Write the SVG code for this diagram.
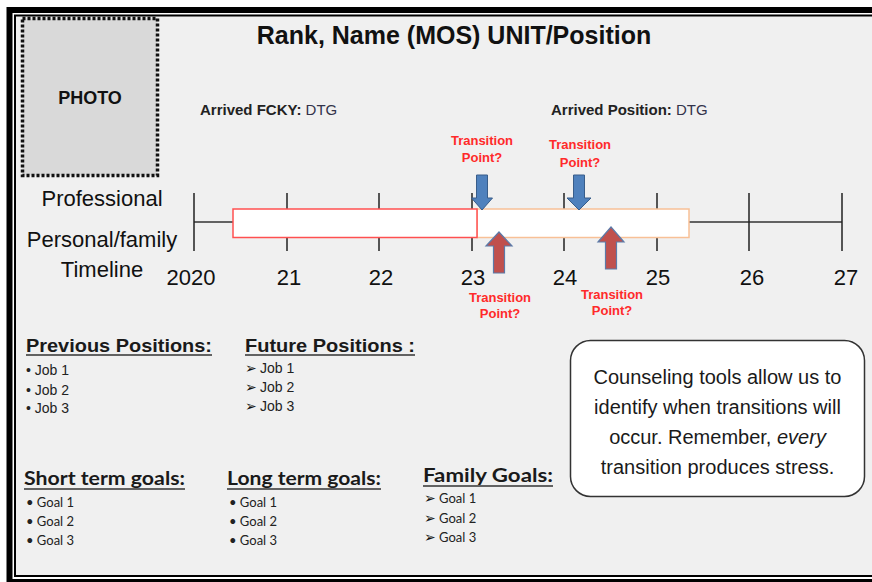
<svg xmlns="http://www.w3.org/2000/svg" width="872" height="582" viewBox="0 0 872 582">
<defs>
<style>
.sans{font-family:"Liberation Sans",Arial,sans-serif;}
.tp{font-family:"Liberation Sans",Arial,sans-serif;font-size:13px;font-weight:bold;fill:#ff2a2a;text-anchor:middle;}
.yr{font-family:"Liberation Sans",Arial,sans-serif;font-size:22px;fill:#111;text-anchor:middle;}
.tick{stroke:#222;stroke-width:1.5;}
.down{fill:#4f81bd;stroke:#385d8a;stroke-width:1;}
.up{fill:#c0504d;stroke:#5b7aa8;stroke-width:1.2;}
.hd{font-family:"Liberation Sans",Arial,sans-serif;font-size:19px;font-weight:bold;fill:#1a1a1a;}
.item{font-family:"Liberation Sans",Arial,sans-serif;font-size:14px;fill:#222;}
.gh{font-family:Lato,"Open Sans",sans-serif;font-size:18px;font-weight:bold;fill:#1a1a1a;}
.gi{font-family:Lato,"Open Sans",sans-serif;font-size:13px;fill:#222;}
.ul{stroke:#333;stroke-width:1.5;}
.bul{font-family:"DejaVu Sans",sans-serif;font-size:14px;fill:#111;font-weight:bold;}
</style>
</defs>
<rect x="0" y="0" width="872" height="582" fill="#ffffff"/>
<rect x="15" y="15.5" width="900" height="560.5" fill="#f0f0f0" stroke="#000" stroke-width="2"/>
<rect x="9.5" y="10" width="900" height="572" fill="none" stroke="#000" stroke-width="6"/>

<g id="photo">
<rect x="22.5" y="18.5" width="135" height="157" fill="#d9d9d9" stroke="#111" stroke-width="3.5" stroke-dasharray="3 2"/>
<text x="90" y="104" class="sans" font-size="18" font-weight="bold" fill="#111" text-anchor="middle">PHOTO</text>
</g>

<g id="title">
<text x="454" y="44" class="sans" font-size="25" font-weight="bold" fill="#111" text-anchor="middle">Rank, Name (MOS) UNIT/Position</text>
</g>

<g id="arrived-fcky">
<text x="200" y="115" class="sans" font-size="15" fill="#222"><tspan font-weight="bold">Arrived FCKY:</tspan><tspan fill="#33334a"> DTG</tspan></text>
</g>
<g id="arrived-position">
<text x="551" y="115" class="sans" font-size="15" fill="#222"><tspan font-weight="bold">Arrived Position:</tspan><tspan fill="#33334a"> DTG</tspan></text>
</g>

<g id="timeline-labels">
<text x="102" y="206" class="sans" font-size="22" fill="#111" text-anchor="middle">Professional</text>
<text x="102" y="247" class="sans" font-size="22" fill="#111" text-anchor="middle">Personal/family</text>
<text x="102" y="277" class="sans" font-size="22" fill="#111" text-anchor="middle">Timeline</text>
</g>

<g id="timeline">
<line x1="194" y1="222" x2="842" y2="222" stroke="#333" stroke-width="1.5"/>
<line class="tick" x1="194" y1="193" x2="194" y2="251"/>
<line class="tick" x1="287" y1="193" x2="287" y2="251"/>
<line class="tick" x1="379" y1="193" x2="379" y2="251"/>
<line class="tick" x1="472" y1="193" x2="472" y2="251"/>
<line class="tick" x1="564" y1="193" x2="564" y2="251"/>
<line class="tick" x1="657" y1="193" x2="657" y2="251"/>
<line class="tick" x1="749" y1="193" x2="749" y2="251"/>
<line class="tick" x1="842" y1="193" x2="842" y2="251"/>
<rect x="477" y="209" width="212" height="28.5" fill="#fff" stroke="#f8c096" stroke-width="1.5"/>
<rect x="233" y="209" width="244" height="28.5" fill="#fff" stroke="#ff5050" stroke-width="1.5"/>
<text class="yr" x="191" y="285">2020</text>
<text class="yr" x="289" y="285">21</text>
<text class="yr" x="381" y="285">22</text>
<text class="yr" x="473" y="285">23</text>
<text class="yr" x="565" y="285">24</text>
<text class="yr" x="658" y="285">25</text>
<text class="yr" x="752" y="285">26</text>
<text class="yr" x="846" y="285">27</text>
</g>

<g id="connectors">
<path class="down" d="M476.5,175 H487.5 V198 H492.5 L482,210 L471.5,198 H476.5 Z"/>
<path class="down" d="M573.5,175 H584.5 V198 H591 L579,210 L567,198 H573.5 Z"/>
<path class="up" d="M499,232 L512,246 H504.5 V273 H493.5 V246 H486 Z"/>
<path class="up" d="M611,227 L624,242 H616.5 V269 H605.5 V242 H598 Z"/>
</g>

<g id="tp1"><text class="tp" x="482" y="145">Transition</text><text class="tp" x="482" y="162">Point?</text></g>
<g id="tp2"><text class="tp" x="580" y="149">Transition</text><text class="tp" x="580" y="167">Point?</text></g>
<g id="tp3"><text class="tp" x="500" y="302">Transition</text><text class="tp" x="500" y="318">Point?</text></g>
<g id="tp4"><text class="tp" x="612" y="299">Transition</text><text class="tp" x="612" y="315">Point?</text></g>

<g id="previous-positions">
<text class="hd" x="26" y="352" textLength="186" lengthAdjust="spacingAndGlyphs">Previous Positions:</text>
<line class="ul" x1="26" y1="355" x2="212" y2="355"/>
<text class="item" x="26" y="375">• Job 1</text>
<text class="item" x="26" y="395">• Job 2</text>
<text class="item" x="26" y="413">• Job 3</text>
</g>

<g id="future-positions">
<text class="hd" x="245" y="352" textLength="170" lengthAdjust="spacingAndGlyphs">Future Positions :</text>
<line class="ul" x1="245" y1="355" x2="415" y2="355"/>
<text class="item" x="245" y="373"><tspan class="bul">➢</tspan><tspan x="260">Job 1</tspan></text>
<text class="item" x="245" y="392"><tspan class="bul">➢</tspan><tspan x="260">Job 2</tspan></text>
<text class="item" x="245" y="411"><tspan class="bul">➢</tspan><tspan x="260">Job 3</tspan></text>
</g>

<g id="short-term-goals">
<text class="gh" x="24" y="485" textLength="161" lengthAdjust="spacingAndGlyphs">Short term goals:</text>
<line class="ul" x1="24" y1="489" x2="185" y2="489"/>
<text class="gi" x="26" y="507">• Goal 1</text>
<text class="gi" x="26" y="526">• Goal 2</text>
<text class="gi" x="26" y="545">• Goal 3</text>
</g>

<g id="long-term-goals">
<text class="gh" x="227" y="485" textLength="154" lengthAdjust="spacingAndGlyphs">Long term goals:</text>
<line class="ul" x1="227" y1="489" x2="381" y2="489"/>
<text class="gi" x="229" y="507">• Goal 1</text>
<text class="gi" x="229" y="526">• Goal 2</text>
<text class="gi" x="229" y="545">• Goal 3</text>
</g>

<g id="family-goals">
<text class="gh" x="423" y="482" textLength="130" lengthAdjust="spacingAndGlyphs">Family Goals:</text>
<line class="ul" x1="423" y1="486" x2="553" y2="486"/>
<text class="gi" x="424" y="503"><tspan class="bul">➢</tspan><tspan x="439">Goal 1</tspan></text>
<text class="gi" x="424" y="523"><tspan class="bul">➢</tspan><tspan x="439">Goal 2</tspan></text>
<text class="gi" x="424" y="542"><tspan class="bul">➢</tspan><tspan x="439">Goal 3</tspan></text>
</g>

<g id="callout">
<rect x="570.5" y="340.5" width="294" height="156" rx="20" ry="20" fill="#fff" stroke="#333" stroke-width="1.5"/>
<g class="sans" font-size="20" fill="#1a1a1a" text-anchor="middle">
<text x="717.5" y="384">Counseling tools allow us to</text>
<text x="717.5" y="414">identify when transitions will</text>
<text x="717.5" y="444">occur. Remember, <tspan font-style="italic">every</tspan></text>
<text x="717.5" y="474">transition produces stress.</text>
</g>
</g>
</svg>
